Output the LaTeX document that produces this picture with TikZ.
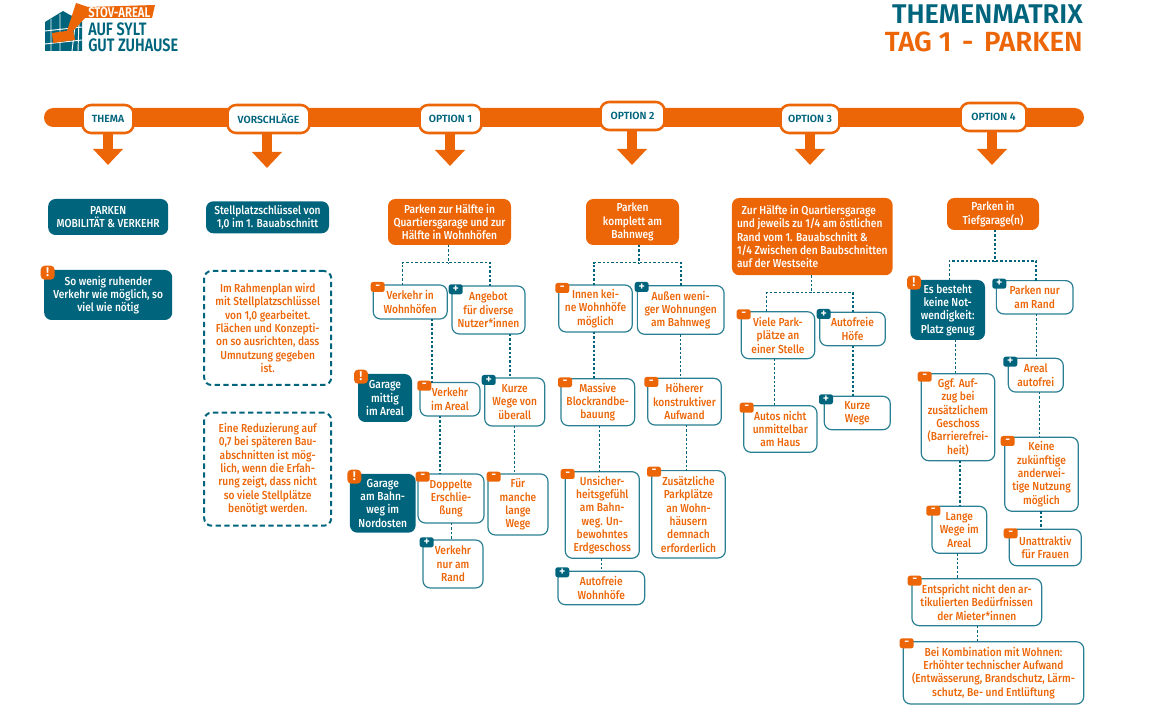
\documentclass[tikz,border=0pt]{standalone}
\usepackage{fontspec}
\setmainfont{Fira Sans}
\newfontface\logofont{Fira Sans SemiBold}[FakeStretch=0.8]
\newfontface\medfont{Fira Sans Medium}[FakeStretch=0.88]
\newfontface\capfont{Fira Sans SemiBold}
\usetikzlibrary{arrows.meta}
\definecolor{ora}{HTML}{EC6608}
\definecolor{pet}{HTML}{00657C}
\definecolor{rim}{HTML}{2A7F92}
\begin{document}
\begin{tikzpicture}[x=.75pt, y=-.75pt,
    wh/.style 2 args = {minimum width=#1*.75pt, minimum height=#2*.75pt},
    base/.style = {rectangle, rounded corners=5.5pt, inner sep=0pt, outer sep=0pt, align=center, font=\medfont\fontsize{8.7}{10}\selectfont},
    head/.style = {base, fill=ora, text=white},
    teal/.style = {base, fill=pet, text=white},
    item/.style = {base, draw=rim, line width=.9pt, fill=white, text=ora},
    note/.style = {base, draw=pet, line width=1.5pt, dash pattern=on 4pt off 2.6pt, text=ora},
    pill/.style = {rectangle, rounded corners=6.5pt, draw=ora, line width=1.9pt, fill=white, text=pet, inner sep=0pt, font=\capfont\fontsize{7.8}{9}\selectfont},
    minus/.style = {rectangle, rounded corners=1.8pt, fill=ora, text=white, inner sep=0pt, minimum width=10.5pt, minimum height=7.5pt, font=\capfont\fontsize{9}{7}\selectfont},
    plus/.style = {minus, fill=pet},
    warn/.style = {minus, rounded corners=3pt, minimum width=10.5pt, minimum height=10.5pt, font=\capfont\fontsize{9.5}{8}\selectfont},
    link/.style = {pet, line width=1pt, dash pattern=on 1.8pt off 1.5pt},
    drop/.style = {ora, line width=7.5pt, -{Triangle[length=12pt, width=21.75pt]}}]

    \useasboundingbox (0,0) rectangle (1154,723);

    % logo
    \fill[pet] (45,22) -- (63,11) -- (70,15) -- (82,20) -- (82,51) -- (45,51) -- cycle;
    \draw[white, line width=.7pt] (51,19) -- (51,51) (60,14) -- (60,51) (45,31) -- (82,27) (45,44) -- (82,40) (76,18) -- (72,51) (79,20) -- (78,51);
    \fill[ora] (76,3) -- (88,7) -- (155,5) -- (152,18) -- (85,18) -- (73,31) -- (67,31) -- cycle;
    \fill[ora] (52,33) -- (73,30) -- (75,40) -- (53,43) -- cycle;
    \node[anchor=west, inner sep=0pt, text=white] (lg1) at (88,12.5) {\logofont\fontsize{10.6}{10}\selectfont STOV-AREAL};
    \node[anchor=west, inner sep=0pt, text=pet] (lg2) at (88,29) {\logofont\fontsize{13.5}{10}\selectfont AUF SYLT};
    \node[anchor=west, inner sep=0pt, text=pet] (lg3) at (88,45) {\logofont\fontsize{13.5}{10}\selectfont GUT ZUHAUSE};

    % title
    \node[anchor=east, inner sep=0pt, text=pet] (tt1) at (1083,14.5) {\capfont\fontsize{20.3}{20}\selectfont THEMENMATRIX};
    \node[anchor=east, inner sep=0pt, text=ora] (tt2) at (1083,41.5) {\capfont\fontsize{20.8}{20}\selectfont TAG 1\hspace{3pt} - \hspace{3pt}PARKEN};

    % bar and columns
    \node[rectangle, rounded corners=7pt, fill=ora, inner sep=0pt, wh={1040}{19}] (bar) at (564,117.5) {};

    \node[pill, wh={51}{28}] (p0) at (108,119) {THEMA};
    \node[pill, wh={82}{28}] (p1) at (268.5,119) {VORSCHLÄGE};
    \node[pill, wh={62}{28}] (p2) at (450.5,119) {OPTION 1};
    \node[pill, wh={64}{28}] (p3) at (632.5,116) {OPTION 2};
    \node[pill, wh={59}{28}] (p4) at (810,119) {OPTION 3};
    \node[pill, wh={66}{28}] (p5) at (993.5,117) {OPTION 4};

    \coordinate (d0) at (108,165);
    \coordinate (d1) at (267,168);
    \coordinate (d2) at (450,166);
    \coordinate (d3) at (632,165);
    \coordinate (d4) at (810,165);
    \coordinate (d5) at (992,165);
    \draw[drop] (p0.south -| d0) -- (d0);
    \draw[drop] (p1.south -| d1) -- (d1);
    \draw[drop] (p2.south -| d2) -- (d2);
    \draw[drop] (p3.south -| d3) -- (d3);
    \draw[drop] (p4.south -| d4) -- (d4);
    \draw[drop] (p5.south -| d5) -- (d5);

    % thema
    \node[teal, wh={120}{36}] (th1) at (108.2,217) {PARKEN\\MOBILITÄT \& VERKEHR};
    \node[teal, wh={128}{50}] (th2) at (108.2,295) {So wenig ruhender\\Verkehr wie möglich, so\\viel wie nötig};
    \node[warn] (w0) at (47.7,272.7) {!};

    % vorschlaege
    \node[teal, wh={123}{32}] (vs1) at (267.5,217.3) {Stellplatzschlüssel von\\1,0 im 1. Bauabschnitt};
    \node[note, wh={127}{114}] (vs2) at (267.7,328) {Im Rahmenplan wird\\mit Stellplatzschlüssel\\von 1,0 gearbeitet.\\Flächen und Konzepti-\\on so ausrichten, dass\\Umnutzung gegeben\\ist.};
    \node[note, wh={127}{113}] (vs3) at (267.7,469.2) {Eine Reduzierung auf\\0,7 bei späteren Bau-\\abschnitten ist mög-\\lich, wenn die Erfah-\\rung zeigt, dass nicht\\so viele Stellplätze\\benötigt werden.};

    % option 1
    \node[head, wh={123}{46}] (oa) at (449.5,222) {Parken zur Hälfte in\\Quartiersgarage und zur\\Hälfte in Wohnhöfen};
    \node[item, wh={74}{34}] (oa1) at (410.2,302) {Verkehr in\\Wohnhöfen};
    \node[item, wh={73}{48}] (oa2) at (488.5,310) {Angebot\\für diverse\\Nutzer*innen};
    \node[teal, wh={54}{48}] (oa3) at (385,398) {Garage\\mittig\\im Areal};
    \node[item, wh={60}{33.5}] (oa4) at (450,399.3) {Verkehr\\im Areal};
    \node[item, wh={60}{48}] (oa5) at (514.7,402) {Kurze\\Wege von\\überall};
    \node[teal, wh={65.7}{58.7}] (oa6) at (382.8,503.3) {Garage\\am Bahn-\\weg im\\Nordosten};
    \node[item, wh={66}{49}] (oa7) at (451,498.5) {Doppelte\\Erschlie-\\ßung};
    \node[item, wh={60}{61}] (oa8) at (518,504.5) {Für\\manche\\lange\\Wege};
    \node[item, wh={60}{48}] (oa9) at (453,564) {Verkehr\\nur am\\Rand};

    \coordinate (fa) at (448.3,262.7);
    \draw[link] (oa.south -| fa) -- (fa);
    \draw[link] (oa1.north -| 402.3,0) |- (fa);
    \draw[link] (oa2.north -| 490,0) |- (fa);
    \draw[link] (oa1.south -| 432,0) -- (oa4.north -| 432,0);
    \draw[link] (oa2.south -| 510,0) -- (oa5.north -| 510,0);
    \draw[link] (oa4.south -| 440,0) -- (oa7.north -| 440,0);
    \draw[link] (oa5.south -| 514.7,0) -- (oa8.north -| 514.7,0);
    \draw[link] (oa7.south -| 451.7,0) -- (oa9.north -| 451.7,0);

    \node[minus] (ma1) at (377.7,287) {-};
    \node[plus] (ma2) at (455.7,289.3) {+};
    \node[warn] (ma3) at (361,376.7) {!};
    \node[minus] (ma4) at (424.3,385.7) {-};
    \node[plus] (ma5) at (488.7,380) {+};
    \node[warn] (ma6) at (354.3,476.7) {!};
    \node[minus] (ma7) at (422.7,476.7) {-};
    \node[minus] (ma8) at (493.7,476.7) {-};
    \node[plus] (ma9) at (426.7,542.3) {+};

    % option 2
    \node[head, wh={93}{46}] (ob) at (632.5,222) {Parken\\komplett am\\Bahnweg};
    \node[item, wh={73.6}{47}] (ob1) at (595.5,308.5) {Innen kei-\\ne Wohnhöfe\\möglich};
    \node[item, wh={86.7}{48.6}] (ob2) at (680.7,310) {Außen weni-\\ger Wohnungen\\am Bahnweg};
    \node[item, wh={73.7}{47}] (ob3) at (597.8,402.2) {Massive\\Blockrandbe-\\bauung};
    \node[item, wh={73.6}{46.7}] (ob4) at (684.5,401.7) {Höherer\\konstruktiver\\Aufwand};
    \node[item, wh={74}{86.6}] (ob5) at (602.3,515) {Unsicher-\\heitsgefühl\\am Bahn-\\weg. Un-\\bewohntes\\Erdgeschoss};
    \node[item, wh={73.6}{87.3}] (ob6) at (688.5,514.3) {Zusätzliche\\Parkplätze\\an Wohn-\\häusern\\demnach\\erforderlich};
    \node[item, wh={86.7}{33.4}] (ob7) at (601.3,588) {Autofreie\\Wohnhöfe};

    \coordinate (fb) at (639,262.7);
    \draw[link] (ob.south -| fb) -- (fb);
    \draw[link] (ob1.north -| 594,0) |- (fb);
    \draw[link] (ob2.north -| 681,0) |- (fb);
    \draw[link] (ob1.south -| 594,0) -- (ob3.north -| 594,0);
    \draw[link] (ob2.south -| 680.7,0) -- (ob4.north -| 680.7,0);
    \draw[link] (ob3.south -| 599.7,0) -- (ob5.north -| 599.7,0);
    \draw[link] (ob4.south -| 686.7,0) -- (ob6.north -| 686.7,0);
    \draw[link] (ob5.south -| 601.7,0) -- (ob7.north -| 601.7,0);

    \node[minus] (mb1) at (562.3,288) {-};
    \node[plus] (mb2) at (641.7,287) {+};
    \node[minus] (mb3) at (565,382.3) {-};
    \node[minus] (mb4) at (651.3,382) {-};
    \node[minus] (mb5) at (567.7,474) {-};
    \node[minus] (mb6) at (654,471.7) {-};
    \node[plus] (mb7) at (562.3,572.3) {+};

    % option 3
    \node[head, wh={160.7}{77.3}, align=left] (oc) at (812.3,236.6) {\hspace*{3.5pt}Zur Hälfte in Quartiersgarage\\und jeweils zu 1/4 am östlichen\\Rand vom 1. Bauabschnitt \&\\1/4 Zwischen den Baubschnitten\\auf der Westseite};
    \node[item, wh={73.4}{47}] (oc1) at (778,335.2) {Viele Park-\\plätze an\\einer Stelle};
    \node[item, wh={65.6}{33.4}] (oc2) at (852.5,329) {Autofreie\\Höfe};
    \node[item, wh={73.3}{46.6}] (oc3) at (780.3,429) {Autos nicht\\unmittelbar\\am Haus};
    \node[item, wh={66}{33.4}] (oc4) at (857.3,413) {Kurze\\Wege};

    \coordinate (fc) at (811.7,292.7);
    \draw[link] (oc.south -| fc) -- (fc);
    \draw[link] (oc1.north -| 766.7,0) |- (fc);
    \draw[link] (oc2.north -| 853,0) |- (fc);
    \draw[link] (oc1.south -| 774.7,0) -- (oc3.north -| 774.7,0);
    \draw[link] (oc2.south -| 853,0) -- (oc4.north -| 853,0);

    \node[minus] (mc1) at (743.7,314.3) {-};
    \node[plus] (mc2) at (823.7,314) {+};
    \node[minus] (mc3) at (746.7,407.7) {-};
    \node[plus] (mc4) at (826,399.3) {+};

    % option 4
    \node[head, wh={92}{32}] (od) at (993,214) {Parken in\\Tiefgarage(n)};
    \node[teal, wh={74.7}{60}] (od1) at (947.7,310) {Es besteht\\keine Not-\\wendigkeit:\\Platz genug};
    \node[item, wh={76.7}{33.3}] (od2) at (1034.7,297.3) {Parken nur\\am Rand};
    \node[item, wh={55}{33.7}] (od3) at (1035.8,375.2) {Areal\\autofrei};
    \node[item, wh={73.4}{87}] (od4) at (958,417.2) {Ggf. Auf-\\zug bei\\zusätzlichem\\Geschoss\\(Barrierefrei-\\heit)};
    \node[item, wh={73.6}{74}] (od5) at (1041.5,474.3) {Keine\\zukünftige\\anderwei-\\tige Nutzung\\möglich};
    \node[item, wh={54.7}{47}] (od6) at (959.3,529.8) {Lange\\Wege im\\Areal};
    \node[item, wh={72}{36.4}] (od7) at (1045.3,547.5) {Unattraktiv\\für Frauen};
    \node[item, wh={129.7}{47}] (od8) at (976.8,602.2) {Entspricht nicht den ar-\\tikulierten Bedürfnissen\\der Mieter*innen};
    \node[item, wh={180.4}{62.3}] (od9) at (993.5,672.9) {Bei Kombination mit Wohnen:\\Erhöhter technischer Aufwand\\(Entwässerung, Brandschutz, Lärm-\\schutz, Be- und Entlüftung};

    \coordinate (fd) at (995,261);
    \draw[link] (od.south -| fd) -- (fd);
    \draw[link] (od1.north -| 949.3,0) |- (fd);
    \draw[link] (od2.north -| 1036,0) |- (fd);
    \draw[link] (od1.south -| 955.3,0) -- (od4.north -| 955.3,0);
    \draw[link] (od2.south -| 1036.7,0) -- (od3.north -| 1036.7,0);
    \draw[link] (od3.south -| 1039.3,0) -- (od5.north -| 1039.3,0);
    \draw[link] (od4.south -| 960,0) -- (od6.north -| 960,0);
    \draw[link] (od5.south -| 1041,0) -- (od7.north -| 1041,0);
    \draw[link] (od6.south -| 957.3,0) -- (od8.north -| 957.3,0);
    \draw[link] (od8.south -| 977.3,0) -- (od9.north -| 977.3,0);

    \node[warn] (md1) at (914,282.7) {!};
    \node[plus] (md2) at (999.3,283.7) {+};
    \node[plus] (md3) at (1010.3,361.7) {+};
    \node[minus] (md4) at (924.7,376.7) {-};
    \node[minus] (md5) at (1007.7,441) {-};
    \node[minus] (md6) at (933.3,510.7) {-};
    \node[minus] (md7) at (1010.7,533.3) {-};
    \node[minus] (md8) at (914.7,580.7) {-};
    \node[minus] (md9) at (906.7,643.3) {-};

\end{tikzpicture}
\end{document}
